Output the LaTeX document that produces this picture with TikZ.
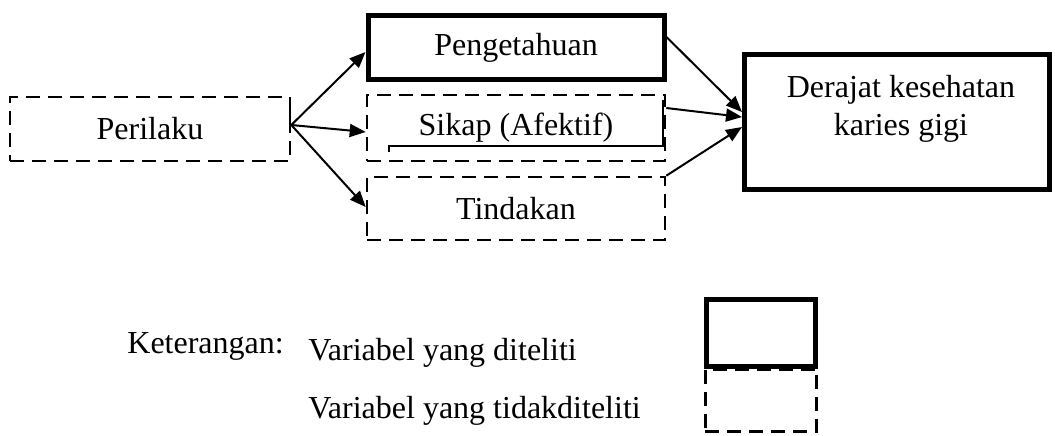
\documentclass[tikz,border=0pt]{standalone}
\usepackage{fontspec}
\setmainfont{Liberation Serif}
\usetikzlibrary{arrows.meta,positioning}

\begin{document}
\begin{tikzpicture}
[x = 0.5pt, y = -0.5pt,
 font = \fontsize{16}{19}\selectfont,
 solidbox/.style = {draw = black, line width = 2.5pt, inner sep = 0pt},
 dashbox/.style = {draw = black, line width = 1.3pt, dash pattern = on 7pt off 4pt, inner sep = 0pt},
 arr/.style = {draw = black, line width = 1pt, -{Triangle[length = 8pt, width = 6.5pt]}},
 legtext/.style = {anchor = base west, inner sep = 0pt}
 ]
\useasboundingbox (0,0) rectangle (1055,435);
\node [dashbox, minimum width = 140pt, minimum height = 32pt] (perilaku) at (150,129) {Perilaku};
\node [solidbox, minimum width = 148pt, minimum height = 32pt] (pengetahuan) at (516,47.5) {Pengetahuan};
\node [dashbox, minimum width = 149pt, minimum height = 33pt] (sikap) at (516,128) {Sikap (Afektif)};
\node [dashbox, minimum width = 149pt, minimum height = 31.5pt] (tindakan) at (516,208.5) {Tindakan};
\node [solidbox, minimum width = 152.5pt, minimum height = 67.5pt] (derajat) at (897,122) {};
\node [below = 11.5pt of derajat.north, xshift = 2pt, align = center, inner sep = 0pt] (derajattext) {Derajat kesehatan\\karies gigi};
\draw [line width = 1pt] (389,152) -- (389,146) -- (663,146) -- (663,100);
\draw [line width = 1.3pt] (290,97) -- (290,125);
\draw [arr] ([yshift = 2pt]perilaku.east) -- ([yshift = -2.25pt]pengetahuan.west);
\draw [arr] ([yshift = 2pt]perilaku.east) -- ([yshift = -2pt]sikap.west);
\draw [arr] ([yshift = 2pt]perilaku.east) -- ([yshift = 0.75pt]tindakan.west);
\draw [arr] ([yshift = 5.25pt]pengetahuan.east) -- ([yshift = 5pt]derajat.west);
\draw [arr] ([yshift = 10pt]sikap.east) -- ([yshift = 2.5pt]derajat.west);
\draw [arr] (tindakan.north east) -- ([yshift = -2.5pt]derajat.west);
% keterangan
\node [legtext] (keterangan) at (127,353) {Keterangan:};
\node [legtext] (diteliti) at (308,360) {Variabel yang diteliti};
\node [legtext] (tidakditeliti) at (308,418) {Variabel yang tidakditeliti};
\node [solidbox, minimum width = 54.5pt, minimum height = 33.5pt] (legsolid) at (761,333) {};
\node [dashbox, minimum width = 55.7pt, minimum height = 31.2pt] (legdash) at (761,400.5) {};
\end{tikzpicture}
\end{document}
